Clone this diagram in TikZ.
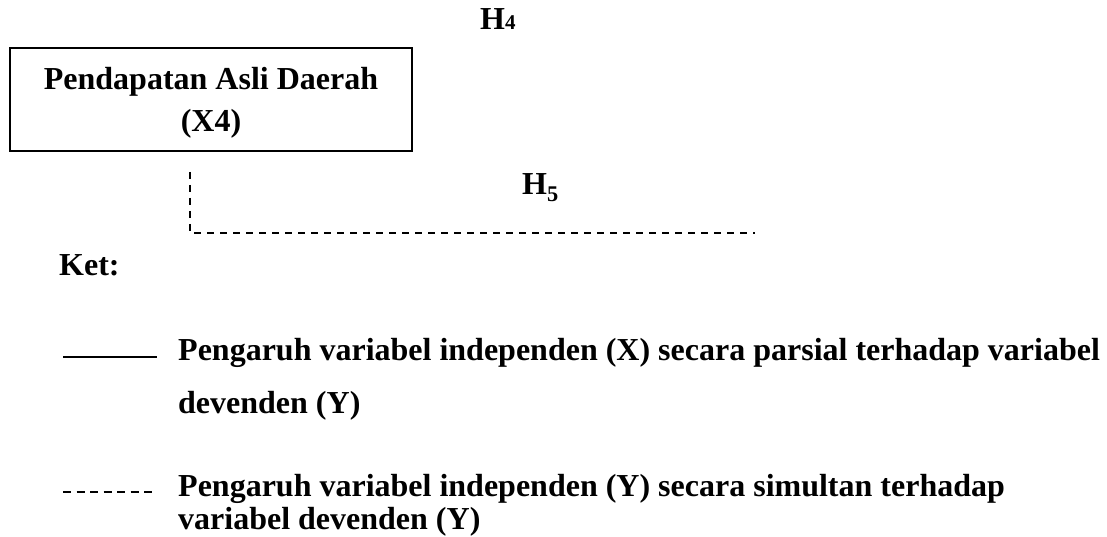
\documentclass[tikz,border=0pt]{standalone}
\usepackage{fontspec}
\setmainfont{Liberation Serif}
\begin{document}
\begin{tikzpicture}[x=1pt,y=-1pt,
  txt/.style={anchor=base west,inner sep=0pt,font=\fontsize{32}{36}\selectfont\bfseries},
  ctxt/.style={anchor=base,inner sep=0pt,font=\fontsize{32}{36}\selectfont\bfseries},
  boxline/.style={line width=2pt},
  dashline/.style={line width=2pt,dash pattern=on 7pt off 6pt},
  solidline/.style={line width=2pt}]
\useasboundingbox[fill=white] (0,0) rectangle (1107,537);
% box
\node[draw,boxline,minimum width=402pt,minimum height=103pt,inner sep=0pt] (box) at (211,99.5) {};
\node[ctxt] (t1) at (211,90) {Pendapatan Asli Daerah};
\node[ctxt] (t2) at (211,132) {(X4)};
% hypotheses
\node[txt] (h4) at (480,30) {H{\fontsize{21}{24}\selectfont 4}};
\node[txt] (h5) at (522,195) {H$_{\mathbf{5}}$};
% dashed connector
\coordinate (d0) at (190,172);
\coordinate (d1) at (190,233);
\coordinate (d2) at (755,233);
\draw[dashline] (d0) -- (d1) -- (d2);
% legend
\node[txt] (ket) at (59,275) {Ket:};
\coordinate (s0) at (63,357);
\coordinate (s1) at (157,357);
\draw[solidline] (s0) -- (s1);
\node[txt] (l1) at (178,360) {Pengaruh variabel independen (X) secara parsial terhadap variabel};
\node[txt] (l2) at (178,413) {devenden (Y)};
\coordinate (q0) at (63,492);
\coordinate (q1) at (156,492);
\draw[line width=2pt,dash pattern=on 8pt off 5.5pt] (q0) -- (q1);
\node[txt] (l3) at (178,496) {Pengaruh variabel independen (Y) secara simultan terhadap};
\node[txt] (l4) at (178,529) {variabel devenden (Y)};
\end{tikzpicture}
\end{document}
